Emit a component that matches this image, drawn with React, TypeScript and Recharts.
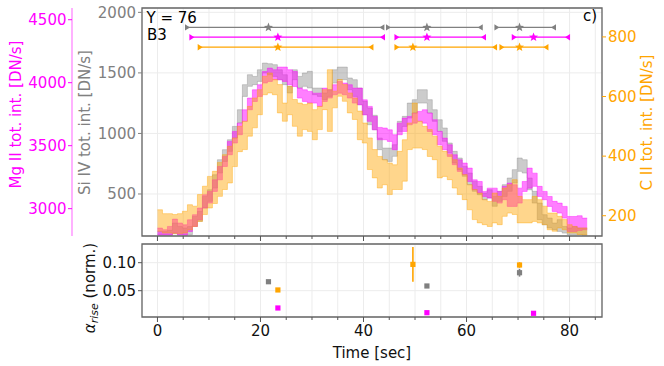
import React from 'react';
import {
  ComposedChart, Area, Scatter, XAxis, YAxis, CartesianGrid, ReferenceLine, ReferenceArea, ErrorBar,
} from 'recharts';

const FONT = 'DejaVu Sans';
const GRAY = '#808080';
const MAG = '#ff00ff';
const ORA = '#ffa500';

// exposure cadence (s) of the light curves
const DT = 0.97;

// Si IV band (DN/s)
const siHi = [191,191,200,260,232,219,232,315,356,480,535,659,783,866,948,1058,1196,1403,1485,1471,1526,1581,1576,1568,1526,1485,1389,1526,1471,1499,1513,1375,1375,1334,1361,1526,1548,1548,1458,1444,1375,1265,1210,1150,962,879,879,907,1100,1141,1251,1279,1361,1361,1279,1196,1113,1045,921,852,797,728,673,604,563,508,535,480,522,577,632,701,797,783,632,522,425,329,301,260,288,232,219,232,219,219];
const siLo = [160,160,160,172,160,160,164,232,274,384,439,549,673,769,852,962,1086,1306,1389,1403,1430,1499,1485,1471,1444,1403,1334,1444,1375,1389,1375,1320,1306,1279,1306,1416,1444,1444,1361,1306,1237,1155,1072,1031,866,783,769,811,1017,1058,1127,1169,1251,1251,1169,1100,1017,935,838,756,701,646,577,522,494,453,467,398,439,480,522,590,687,673,535,425,288,246,219,205,191,177,164,164,164,160];

// Mg II band (DN/s)
const mgHi = [2846,2833,2859,2917,2886,2872,2912,2952,3005,3110,3137,3229,3335,3415,3534,3613,3679,3785,3878,3944,3984,4089,4116,4103,4124,4124,4103,4089,3957,3944,3931,3917,3917,3957,3944,3984,4010,3997,3984,3957,3957,3864,3812,3732,3645,3640,3626,3587,3679,3719,3732,3759,3772,3785,3759,3706,3613,3560,3507,3428,3388,3362,3322,3229,3216,3137,3163,3163,3137,3177,3203,3190,3163,3216,3322,3282,3177,3137,3097,3058,3044,3018,2938,2938,2944,2925];
const mgLo = [2790,2790,2790,2806,2793,2790,2819,2859,2912,3005,3044,3137,3229,3335,3428,3521,3587,3693,3785,3851,3891,3997,4010,4023,4023,4010,3984,3970,3878,3851,3838,3838,3812,3851,3878,3904,3917,3904,3878,3838,3825,3745,3693,3626,3547,3547,3534,3468,3587,3613,3666,3679,3693,3679,3613,3587,3507,3468,3415,3349,3296,3269,3216,3150,3124,3097,3084,3058,3044,3071,3018,3018,3044,3137,3163,3177,3097,3071,3018,2978,2965,2925,2819,2819,2827,2833];

// C II band (DN/s)
const cHi = [220,207,207,204,207,215,237,232,271,299,332,349,379,405,433,461,500,517,567,595,623,668,679,657,640,578,634,590,578,573,578,556,567,623,690,618,657,640,612,595,551,511,461,422,399,388,377,371,416,455,511,578,517,500,489,467,433,416,405,388,360,338,304,288,276,254,248,276,265,293,304,321,265,254,254,265,254,232,209,209,198,187,170,164,159,159];
const cLo = [148,142,142,140,140,142,153,164,181,204,226,241,265,288,310,365,415,422,467,495,539,606,612,606,545,517,539,500,467,489,483,455,489,556,483,562,601,584,545,523,455,444,355,327,293,304,271,288,288,316,422,427,427,422,399,388,327,332,321,293,271,254,220,187,176,170,164,176,170,198,209,204,176,176,176,181,176,170,153,148,159,153,142,142,137,135];

// rise intervals (s): start, peak, end
const siStart = [5.83, 44.85, 65.9];
const siPeak = [21.55, 52.31, 70.29];
const siEnd = [43.57, 62.66, 76.89];
const mgStart = [6.68, 46.49, 69.26];
const mgPeak = [23.38, 52.31, 73.01];
const mgEnd = [43.69, 63.3, 79.61];
const cStart = [8.29, 46.49, 66.87];
const cPeak = [23.38, 49.59, 70.29];
const cEnd = [41.44, 65.44, 75.42];

// alpha_rise (norm.)
const siAlpha = [0.066, 0.0584, 0.0821];
const siAlphaErr = [0.001, 0.001, 0.007];
const cAlpha = [0.0513, 0.097, 0.0959];
const cAlphaErr = [0.001, 0.031, 0.005];
const mgAlpha = [0.0191, 0.0107, 0.0096];
const mgAlphaErr = [0.001, 0.001, 0.001];

const xTicks = [0, 5, 10, 15, 20, 25, 30, 35, 40, 45, 50, 55, 60, 65, 70, 75, 80, 85];
const siTicks = [500, 1000, 1500, 2000];
const mgTicks = [3000, 3500, 4000, 4500];
const cTicks = [200, 400, 600, 800];
const aTicks = [0.05, 0.1];

const X_DOMAIN: [number, number] = [-3, 86.3];
const SI_DOMAIN: [number, number] = [153, 2036];
const MG_DOMAIN: [number, number] = [2783, 4593];
const C_DOMAIN: [number, number] = [132, 897];
const A_DOMAIN: [number, number] = [0.003, 0.1334];
const ROW = { si: 0.915, mg: 0.872, c: 0.828 };

const N = siHi.length;
const table = Array.from({ length: N + 1 }, (_, i) => {
  const k = Math.min(i, N - 1);
  return {
    t: +(i * DT).toFixed(3),
    si: [siLo[k], siHi[k]],
    mg: [mgLo[k], mgHi[k]],
    c: [cLo[k], cHi[k]],
  };
});

const pts = (ts: number[], y: number) => ts.map((t) => ({ t, y }));
const alphaPts = (ts: number[], ys: number[], es: number[]) => ts.map((t, i) => ({ t, y: ys[i], e: es[i] }));

const triRight = (color: string) => (p: any) => (
  <polygon points={`${p.cx - 2.5},${p.cy - 3.2} ${p.cx + 2.5},${p.cy} ${p.cx - 2.5},${p.cy + 3.2}`} fill={color} />
);
const triLeft = (color: string) => (p: any) => (
  <polygon points={`${p.cx + 2.5},${p.cy - 3.2} ${p.cx - 2.5},${p.cy} ${p.cx + 2.5},${p.cy + 3.2}`} fill={color} />
);
const star = (color: string) => (p: any) => {
  const a: string[] = [];
  for (let i = 0; i < 10; i++) {
    const ang = -Math.PI / 2 + (i * Math.PI) / 5;
    const r = i % 2 ? 2.0 : 4.8;
    a.push(`${p.cx + r * Math.cos(ang)},${p.cy + r * Math.sin(ang)}`);
  }
  return <polygon points={a.join(' ')} fill={color} />;
};
const square = (color: string) => (p: any) => (
  <rect x={p.cx - 2.6} y={p.cy - 2.6} width={5.2} height={5.2} fill={color} />
);

const XTickMain = (p: any) => {
  const major = p.payload.value % 20 === 0;
  return <line x1={p.x} x2={p.x} y1={p.y} y2={p.y + (major ? 5 : 3)} stroke="#555" strokeWidth={1} />;
};
const XTickBottom = (p: any) => {
  const major = p.payload.value % 20 === 0;
  return (
    <g>
      <line x1={p.x} x2={p.x} y1={p.y} y2={p.y + (major ? 5 : 3)} stroke="#555" strokeWidth={1} />
      {major && (
        <text x={p.x} y={p.y + 19} textAnchor="middle" fontSize={15} fontFamily={FONT} fill="#111">
          {p.payload.value}
        </text>
      )}
    </g>
  );
};

const rows = [
  { color: GRAY, level: ROW.si, start: siStart, peak: siPeak, end: siEnd },
  { color: MAG, level: ROW.mg, start: mgStart, peak: mgPeak, end: mgEnd },
  { color: ORA, level: ROW.c, start: cStart, peak: cPeak, end: cEnd },
];

export default function App() {
  return (
    <div style={{ position: 'absolute', left: 0, top: 0, width: 664, height: 366, background: '#fff' }}>
      <div style={{ position: 'absolute', left: 0, top: 0 }}>
        <ComposedChart width={664} height={246} data={table} margin={{ top: 8, right: 0, bottom: 0, left: 0 }}>
          <CartesianGrid yAxisId="a_si" stroke="#ececec" strokeWidth={1} />
          <XAxis dataKey="t" type="number" domain={X_DOMAIN} allowDataOverflow ticks={xTicks} interval={0}
            height={10} tickSize={0} tickMargin={0} tickLine={false} axisLine={false} tick={(p: any) => <XTickMain {...p} />} />
          <YAxis yAxisId="a_si" orientation="left" width={70} type="number" domain={SI_DOMAIN} allowDataOverflow ticks={siTicks} interval={0}
            axisLine={false} tickLine={{ stroke: GRAY }} tickSize={4} tickMargin={2}
            tick={{ fill: GRAY, fontSize: 15, fontFamily: FONT }} />
          <YAxis yAxisId="b_mg" orientation="left" width={72} type="number" domain={MG_DOMAIN} allowDataOverflow ticks={mgTicks} interval={0}
            axisLine={{ stroke: '#ff88ff', strokeWidth: 1.3 }} tickLine={{ stroke: MAG }} tickSize={4} tickMargin={1.5}
            tick={{ fill: MAG, fontSize: 15, fontFamily: FONT }} />
          <YAxis yAxisId="c_c2" orientation="right" width={62} type="number" domain={C_DOMAIN} allowDataOverflow ticks={cTicks} interval={0}
            axisLine={false} tickLine={{ stroke: ORA }} tickSize={4} tickMargin={2}
            tick={{ fill: ORA, fontSize: 15, fontFamily: FONT }} />
          <YAxis yAxisId="d_row" hide type="number" domain={[0, 1]} allowDataOverflow />

          <Area yAxisId="a_si" type="stepAfter" dataKey="si" fill={GRAY} fillOpacity={0.4} stroke={GRAY} strokeOpacity={0.35} strokeWidth={1} isAnimationActive={false} dot={false} activeDot={false} />
          <Area yAxisId="b_mg" type="stepAfter" dataKey="mg" fill={MAG} fillOpacity={0.5} stroke={MAG} strokeOpacity={0.4} strokeWidth={1} isAnimationActive={false} dot={false} activeDot={false} />
          <Area yAxisId="c_c2" type="stepAfter" dataKey="c" fill={ORA} fillOpacity={0.45} stroke={ORA} strokeOpacity={0.4} strokeWidth={1} isAnimationActive={false} dot={false} activeDot={false} />

          {rows.map((r, ri) =>
            r.start.map((s, i) => (
              <ReferenceLine key={`seg${ri}-${i}`} yAxisId="d_row" segment={[{ x: s, y: r.level }, { x: r.end[i], y: r.level }]}
                stroke={r.color} strokeWidth={1.2} />
            ))
          )}
          {rows.map((r, ri) => (
            <Scatter key={`st${ri}`} yAxisId="d_row" data={pts(r.start, r.level)} dataKey="y" shape={triRight(r.color)} isAnimationActive={false} />
          ))}
          {rows.map((r, ri) => (
            <Scatter key={`en${ri}`} yAxisId="d_row" data={pts(r.end, r.level)} dataKey="y" shape={triLeft(r.color)} isAnimationActive={false} />
          ))}
          {rows.map((r, ri) => (
            <Scatter key={`pk${ri}`} yAxisId="d_row" data={pts(r.peak, r.level)} dataKey="y" shape={star(r.color)} isAnimationActive={false} />
          ))}
          <ReferenceArea yAxisId="a_si" x1={X_DOMAIN[0]} x2={X_DOMAIN[1]} y1={SI_DOMAIN[0]} y2={SI_DOMAIN[1]}
            fill="none" fillOpacity={0} stroke="#666" strokeWidth={1.3} />
        </ComposedChart>
      </div>

      <div style={{ position: 'absolute', left: 0, top: 240 }}>
        <ComposedChart width={664} height={126} margin={{ top: 4, right: 62, bottom: 0, left: 0 }}>
          <CartesianGrid stroke="#ececec" strokeWidth={1} />
          <XAxis dataKey="t" type="number" domain={X_DOMAIN} allowDataOverflow ticks={xTicks} interval={0}
            height={49} tickSize={0} tickMargin={0} tickLine={false} axisLine={false} tick={(p: any) => <XTickBottom {...p} />} />
          <YAxis type="number" domain={A_DOMAIN} allowDataOverflow ticks={aTicks} interval={0} width={142}
            axisLine={false} tickLine={{ stroke: '#555' }} tickSize={4} tickMargin={2}
            tickFormatter={(v: number) => v.toFixed(2)}
            tick={{ fill: '#111', fontSize: 15, fontFamily: FONT }} />
          <Scatter data={alphaPts(siPeak, siAlpha, siAlphaErr)} dataKey="y" shape={square(GRAY)} isAnimationActive={false}>
            <ErrorBar dataKey="e" direction="y" width={0} stroke={GRAY} strokeWidth={1.6} />
          </Scatter>
          <Scatter data={alphaPts(cPeak, cAlpha, cAlphaErr)} dataKey="y" shape={square(ORA)} isAnimationActive={false}>
            <ErrorBar dataKey="e" direction="y" width={0} stroke={ORA} strokeWidth={1.6} />
          </Scatter>
          <Scatter data={alphaPts(mgPeak, mgAlpha, mgAlphaErr)} dataKey="y" shape={square(MAG)} isAnimationActive={false}>
            <ErrorBar dataKey="e" direction="y" width={0} stroke={MAG} strokeWidth={1.6} />
          </Scatter>
          <ReferenceArea x1={X_DOMAIN[0]} x2={X_DOMAIN[1]} y1={A_DOMAIN[0]} y2={A_DOMAIN[1]}
            fill="none" fillOpacity={0} stroke="#666" strokeWidth={1.3} />
        </ComposedChart>
      </div>

      <svg width={664} height={366} style={{ position: 'absolute', left: 0, top: 0, pointerEvents: 'none' }}>
        <g fontFamily={FONT} fontSize={15}>
          <text x={146.5} y={22.5} fill="#000">Y = 76</text>
          <text x={147} y={39.5} fill="#000">B3</text>
          <text x={597} y={21} fill="#000" textAnchor="end">c)</text>
          <text x={16} y={114.5} fill={MAG} textAnchor="middle" dominantBaseline="central" transform="rotate(-90 16 114.5)">Mg II tot. int. [DN/s]</text>
          <text x={85} y={122.5} fill={GRAY} textAnchor="middle" dominantBaseline="central" transform="rotate(-90 85 122.5)">Si IV tot. int. [DN/s]</text>
          <text x={647} y={122.5} fill={ORA} textAnchor="middle" dominantBaseline="central" transform="rotate(-90 647 122.5)">C II tot. int. [DN/s]</text>
          <text x={372} y={357.5} fill="#111" textAnchor="middle">Time [sec]</text>
          <text x={90} y={288} fill="#111" textAnchor="middle" dominantBaseline="central" transform="rotate(-90 90 288)">
            <tspan fontStyle="italic">α</tspan>
            <tspan fontStyle="italic" fontSize={11} dy={4}>rise</tspan>
            <tspan dy={-4}> (norm.)</tspan>
          </text>
        </g>
      </svg>
    </div>
  );
}
